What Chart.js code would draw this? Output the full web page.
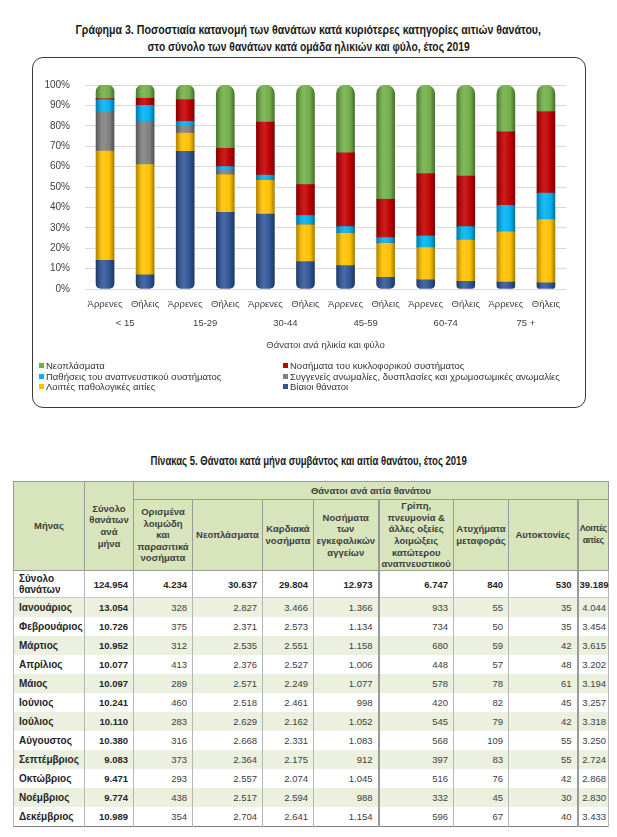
<!DOCTYPE html>
<html lang="el">
<head>
<meta charset="utf-8">
<script src="https://cdn.jsdelivr.net/npm/chart.js@4.4.1/dist/chart.umd.min.js"></script>
<style>
  html, body { margin: 0; padding: 0; background: #fff; }
  body { width: 617px; height: 837px; position: relative; overflow: hidden;
         font-family: "Liberation Sans", Arial, sans-serif; color: #262626; }
  .tline { position: absolute; left: 0; width: 617px; text-align: center; font-weight: bold; color: #1a1a1a;
           font-size: 13px; line-height: 15px; white-space: nowrap; }
  .tline span { display: inline-block; transform-origin: 50% 50%; }
  #frame { position: absolute; left: 32px; top: 57px; width: 552px; height: 349px; border: 1px solid #3a3a3a; border-radius: 11px; }
  #chartBox { position: absolute; left: 32px; top: 57px; width: 554px; height: 351px; }
  #legend { position: absolute; left: 39px; top: 361px; width: 545px; font-size: 9.5px; line-height: 10.7px; color: #333; }
  #legend .item { position: absolute; white-space: nowrap; }
  #legend .sw { display: inline-block; width: 5px; height: 5px; margin-right: 2px; vertical-align: 1px; }
  table { position: absolute; left: 13px; top: 481px; width: 595px; border-collapse: collapse; table-layout: fixed;
          font-size: 9.5px; color: #404040; border: 1px solid #7f7f7f; }
  th { background: #d8e4bc; font-weight: bold; color: #404040; border: 1px solid #9a9a9a; padding: 0 1px; line-height: 11.6px; text-align: center; font-size: 9.5px; }
  th.last { padding: 0; font-size: 9px; letter-spacing: -0.4px; }
  td { border-left: 1px solid #b5b5b5; border-right: 1px solid #b5b5b5; padding: 0 5px 0 5px; text-align: right; height: 19px; white-space: nowrap; }
  td.m { text-align: left; font-weight: bold; color: #262626; font-size: 10px; padding-left: 5px; }
  td.b { font-weight: bold; color: #262626; }
  td.last { padding: 0 2px 0 1px; }
  tr.alt td { background: #ebf1de; }
  tr.tot td { height: 26px; border-top: 1px solid #9a9a9a; border-bottom: 1px solid #c8c8c8; font-weight: bold; color: #262626; }
  tr.tot td.m { white-space: normal; line-height: 11.5px; }
  .dbl { border-left: 2px solid #9a9a9a !important; }
</style>
</head>
<body>
<div class="tline" style="top:22px"><span data-w="465">Γράφημα 3. Ποσοστιαία κατανομή των θανάτων κατά κυριότερες κατηγορίες αιτιών θανάτου,</span></div>
<div class="tline" style="top:39px"><span data-w="322">στο σύνολο των θανάτων κατά ομάδα ηλικιών και φύλο, έτος 2019</span></div>
<div id="chartBox"><canvas id="c"></canvas></div>
<div id="frame"></div>
<div id="legend"></div>
<div class="tline" style="top:453px"><span data-w="316">Πίνακας 5. Θάνατοι κατά μήνα συμβάντος και αιτία θανάτου, έτος 2019</span></div>
<table id="tbl"></table>
<script>
// ---------- Chart data (percent of deaths per group) ----------
const sexLabels = ['Άρρενες','Θήλεις','Άρρενες','Θήλεις','Άρρενες','Θήλεις','Άρρενες','Θήλεις','Άρρενες','Θήλεις','Άρρενες','Θήλεις'];
const ageGroups = ['< 15','15-29','30-44','45-59','60-74','75 +'];
const yTicks = [0,10,20,30,40,50,60,70,80,90,100];

const violentDeaths   = [14.0, 7.0, 67.5, 37.6, 36.7, 13.5, 11.5, 5.7, 4.5, 3.7, 3.4, 3.0];
const otherPathologic = [53.6, 54.0, 8.9, 18.4, 16.6, 17.9, 15.8, 16.7, 15.8, 20.3, 24.6, 31.0];
const congenital      = [19.4, 21.0, 3.8, 2.5, 0.5, 0.4, 0.2, 0.2, 0.1, 0.1, 0.1, 0.1];
const respiratory     = [5.8, 8.0, 1.9, 1.5, 2.0, 4.2, 3.1, 2.6, 5.6, 6.5, 12.9, 12.9];
const circulatory     = [0.5, 3.5, 10.7, 9.0, 26.0, 15.2, 36.2, 18.8, 30.6, 24.8, 36.0, 40.0];
const neoplasms       = [6.7, 6.5, 7.2, 31.0, 18.2, 48.8, 33.2, 56.0, 43.4, 44.6, 23.0, 13.0];

const seriesNames = {
  neo: 'Νεοπλάσματα',
  circ: 'Νοσήματα του κυκλοφορικού συστήματος',
  resp: 'Παθήσεις του αναπνευστικού συστήματος',
  cong: 'Συγγενείς ανωμαλίες, δυσπλασίες και χρωμοσωμικές ανωμαλίες',
  other: 'Λοιπές παθολογικές αιτίες',
  viol: 'Βίαιοι θάνατοι'
};
const seriesColors = { neo:'#70ad47', circ:'#c00000', resp:'#00b0f0', cong:'#7f7f7f', other:'#ffc000', viol:'#2f5597' };

// ---------- Table data ----------
const months = ['Ιανουάριος','Φεβρουάριος','Μάρτιος','Απρίλιος','Μάιος','Ιούνιος','Ιούλιος','Αύγουστος','Σεπτέμβριος','Οκτώβριος','Νοέμβριος','Δεκέμβριος'];
const totalByMonth   = [13054, 10726, 10952, 10077, 10097, 10241, 10110, 10380, 9083, 9471, 9774, 10989];
const infectiousM    = [328, 375, 312, 413, 289, 460, 283, 316, 373, 293, 438, 354];
const neoplasmsM     = [2827, 2371, 2535, 2376, 2571, 2518, 2629, 2668, 2364, 2557, 2517, 2704];
const cardiacM       = [3466, 2573, 2551, 2527, 2249, 2461, 2162, 2331, 2175, 2074, 2594, 2641];
const cerebroM       = [1366, 1134, 1158, 1006, 1077, 998, 1052, 1083, 912, 1045, 988, 1154];
const fluPneumoniaM  = [933, 734, 680, 448, 578, 420, 545, 568, 397, 516, 332, 596];
const transportM     = [55, 50, 59, 57, 78, 82, 79, 109, 83, 76, 45, 67];
const suicidesM      = [35, 35, 42, 48, 61, 45, 42, 55, 55, 42, 30, 40];
const otherCausesM   = [4044, 3454, 3615, 3202, 3194, 3257, 3318, 3250, 2724, 2868, 2830, 3433];
const yearTotals     = [124954, 4234, 30637, 29804, 12973, 6747, 840, 530, 39189];
const causeHeaders = ['Ορισμένα<br>λοιμώδη<br>και<br>παρασιτικά<br>νοσήματα','Νεοπλάσματα','Καρδιακά<br>νοσήματα','Νοσήματα<br>των<br>εγκεφαλικών<br>αγγείων','Γρίπη,<br>πνευμονία &amp;<br>άλλες οξείες<br>λοιμώξεις<br>κατώτερου<br>αναπνευστικού','Ατυχήματα<br>μεταφοράς','Αυτοκτονίες','Λοιπές<br>αιτίες'];

const FONT = '"Liberation Sans", Arial, sans-serif';

// fit title lines to the widths they have in the original
document.querySelectorAll('.tline span').forEach(s => {
  const target = +s.dataset.w, w = s.offsetWidth;
  if (w > 0) s.style.transform = 'scaleX(' + (target / w).toFixed(3) + ')';
});

function fmt(n) { return String(n).replace(/\B(?=(\d{3})+(?!\d))/g, '.'); }

function shade(hex, f) {
  const n = parseInt(hex.slice(1), 16);
  let r = (n >> 16) & 255, g = (n >> 8) & 255, b = n & 255;
  const t = f < 0 ? 0 : 255, p = Math.abs(f);
  r = Math.round((t - r) * p + r); g = Math.round((t - g) * p + g); b = Math.round((t - b) * p + b);
  return 'rgb(' + r + ',' + g + ',' + b + ')';
}

const BAR_W = 18;
function cylinder(base) {
  return function(ctx) {
    const chart = ctx.chart;
    if (!chart.chartArea || ctx.type !== 'data' || !chart.scales.x) return base;
    const cx = chart.scales.x.getPixelForValue(ctx.dataIndex);
    const g = chart.ctx.createLinearGradient(cx - BAR_W / 2, 0, cx + BAR_W / 2, 0);
    g.addColorStop(0, shade(base, -0.3));
    g.addColorStop(0.3, shade(base, 0.08));
    g.addColorStop(0.45, shade(base, 0.12));
    g.addColorStop(0.75, base);
    g.addColorStop(1, shade(base, -0.35));
    return g;
  };
}

function ds(key, data, extra) {
  return Object.assign({
    label: seriesNames[key],
    data: data,
    backgroundColor: cylinder(seriesColors[key]),
    borderWidth: 0,
    barThickness: BAR_W,
    stack: 's'
  }, extra || {});
}

const datasets = [
  ds('viol', violentDeaths, { borderRadius: { bottomLeft: 5, bottomRight: 5, topLeft: 0, topRight: 0 }, borderSkipped: false }),
  ds('other', otherPathologic),
  ds('cong', congenital),
  ds('resp', respiratory),
  ds('circ', circulatory),
  ds('neo', neoplasms, { borderRadius: { topLeft: 9, topRight: 9, bottomLeft: 0, bottomRight: 0 } })
];

new Chart(document.getElementById('c'), {
  type: 'bar',
  data: { labels: sexLabels, datasets: datasets },
  options: {
    responsive: true,
    maintainAspectRatio: false,
    animation: false,
    layout: { padding: { left: 0, right: 20, top: 28, bottom: 47 } },
    plugins: { legend: { display: false }, tooltip: { enabled: false } },
    scales: {
      x: {
        stacked: true,
        grid: { display: false, drawTicks: false },
        border: { display: false },
        ticks: { color: '#404040', font: { family: FONT, size: 9.5 }, padding: 10, maxRotation: 0, autoSkip: false },
        afterFit: s => { s.height = 22; }
      },
      x2: {
        type: 'category',
        labels: ageGroups,
        position: 'bottom',
        offset: true,
        grid: { display: false, drawTicks: false },
        border: { display: false },
        ticks: { color: '#404040', font: { family: FONT, size: 9.5 }, padding: 7, maxRotation: 0, autoSkip: false },
        title: { display: true, text: 'Θάνατοι ανά ηλικία και φύλο', color: '#404040', font: { family: FONT, size: 9.5 }, padding: { top: 0, bottom: 10 } },
        afterFit: s => { s.height = 50; }
      },
      y: {
        stacked: true,
        min: 0, max: 100,
        afterBuildTicks: s => { s.ticks = yTicks.map(v => ({ value: v })); },
        grid: { color: '#d9d9d9', drawTicks: false, lineWidth: 1 },
        border: { display: false },
        ticks: { color: '#404040', font: { family: FONT, size: 10 }, padding: 15, callback: v => v + '%' },
        afterFit: s => { s.width = 53; }
      }
    }
  }
});

// ---------- legend (two columns, like the original) ----------
const legendOrder = [['neo', 0, 0], ['circ', 1, 0], ['resp', 0, 1], ['cong', 1, 1], ['other', 0, 2], ['viol', 1, 2]];
const lg = document.getElementById('legend');
legendOrder.forEach(([k, col, row]) => {
  const d = document.createElement('div');
  d.className = 'item';
  d.style.left = (col ? 244 : 0) + 'px';
  d.style.top = (row * 10.7) + 'px';
  d.innerHTML = '<span class="sw" style="background:' + seriesColors[k] + '"></span>' + seriesNames[k];
  lg.appendChild(d);
});

// ---------- table ----------
const colW = [71, 49, 59, 70, 51, 65, 75, 55, 69, 31];
let html = '<colgroup>' + colW.map(w => '<col style="width:' + w + 'px">').join('') + '</colgroup>';
html += '<tr style="height:18px"><th rowspan="2">Μήνας</th><th rowspan="2">Σύνολο<br>θανάτων<br>ανά<br>μήνα</th><th colspan="8">Θάνατοι ανά αιτία θανάτου</th></tr>';
function cls(i) { const c = []; if (i === 4 || i === 7) c.push('dbl'); if (i === 7) c.push('last'); return c.length ? ' class="' + c.join(' ') + '"' : ''; }
html += '<tr style="height:71px">' + causeHeaders.map((h, i) => '<th' + cls(i) + '>' + h + '</th>').join('') + '</tr>';
html += '<tr class="tot"><td class="m">Σύνολο θανάτων</td><td>' + fmt(yearTotals[0]) + '</td>' +
  yearTotals.slice(1).map((v, i) => '<td' + cls(i) + '>' + fmt(v) + '</td>').join('') + '</tr>';
const cols = [infectiousM, neoplasmsM, cardiacM, cerebroM, fluPneumoniaM, transportM, suicidesM, otherCausesM];
months.forEach((m, r) => {
  html += '<tr' + (r % 2 === 0 ? ' class="alt"' : '') + '><td class="m">' + m + '</td><td class="b">' + fmt(totalByMonth[r]) + '</td>' +
    cols.map((c, i) => '<td' + cls(i) + '>' + fmt(c[r]) + '</td>').join('') + '</tr>';
});
document.getElementById('tbl').innerHTML = html;
</script>
</body>
</html>
